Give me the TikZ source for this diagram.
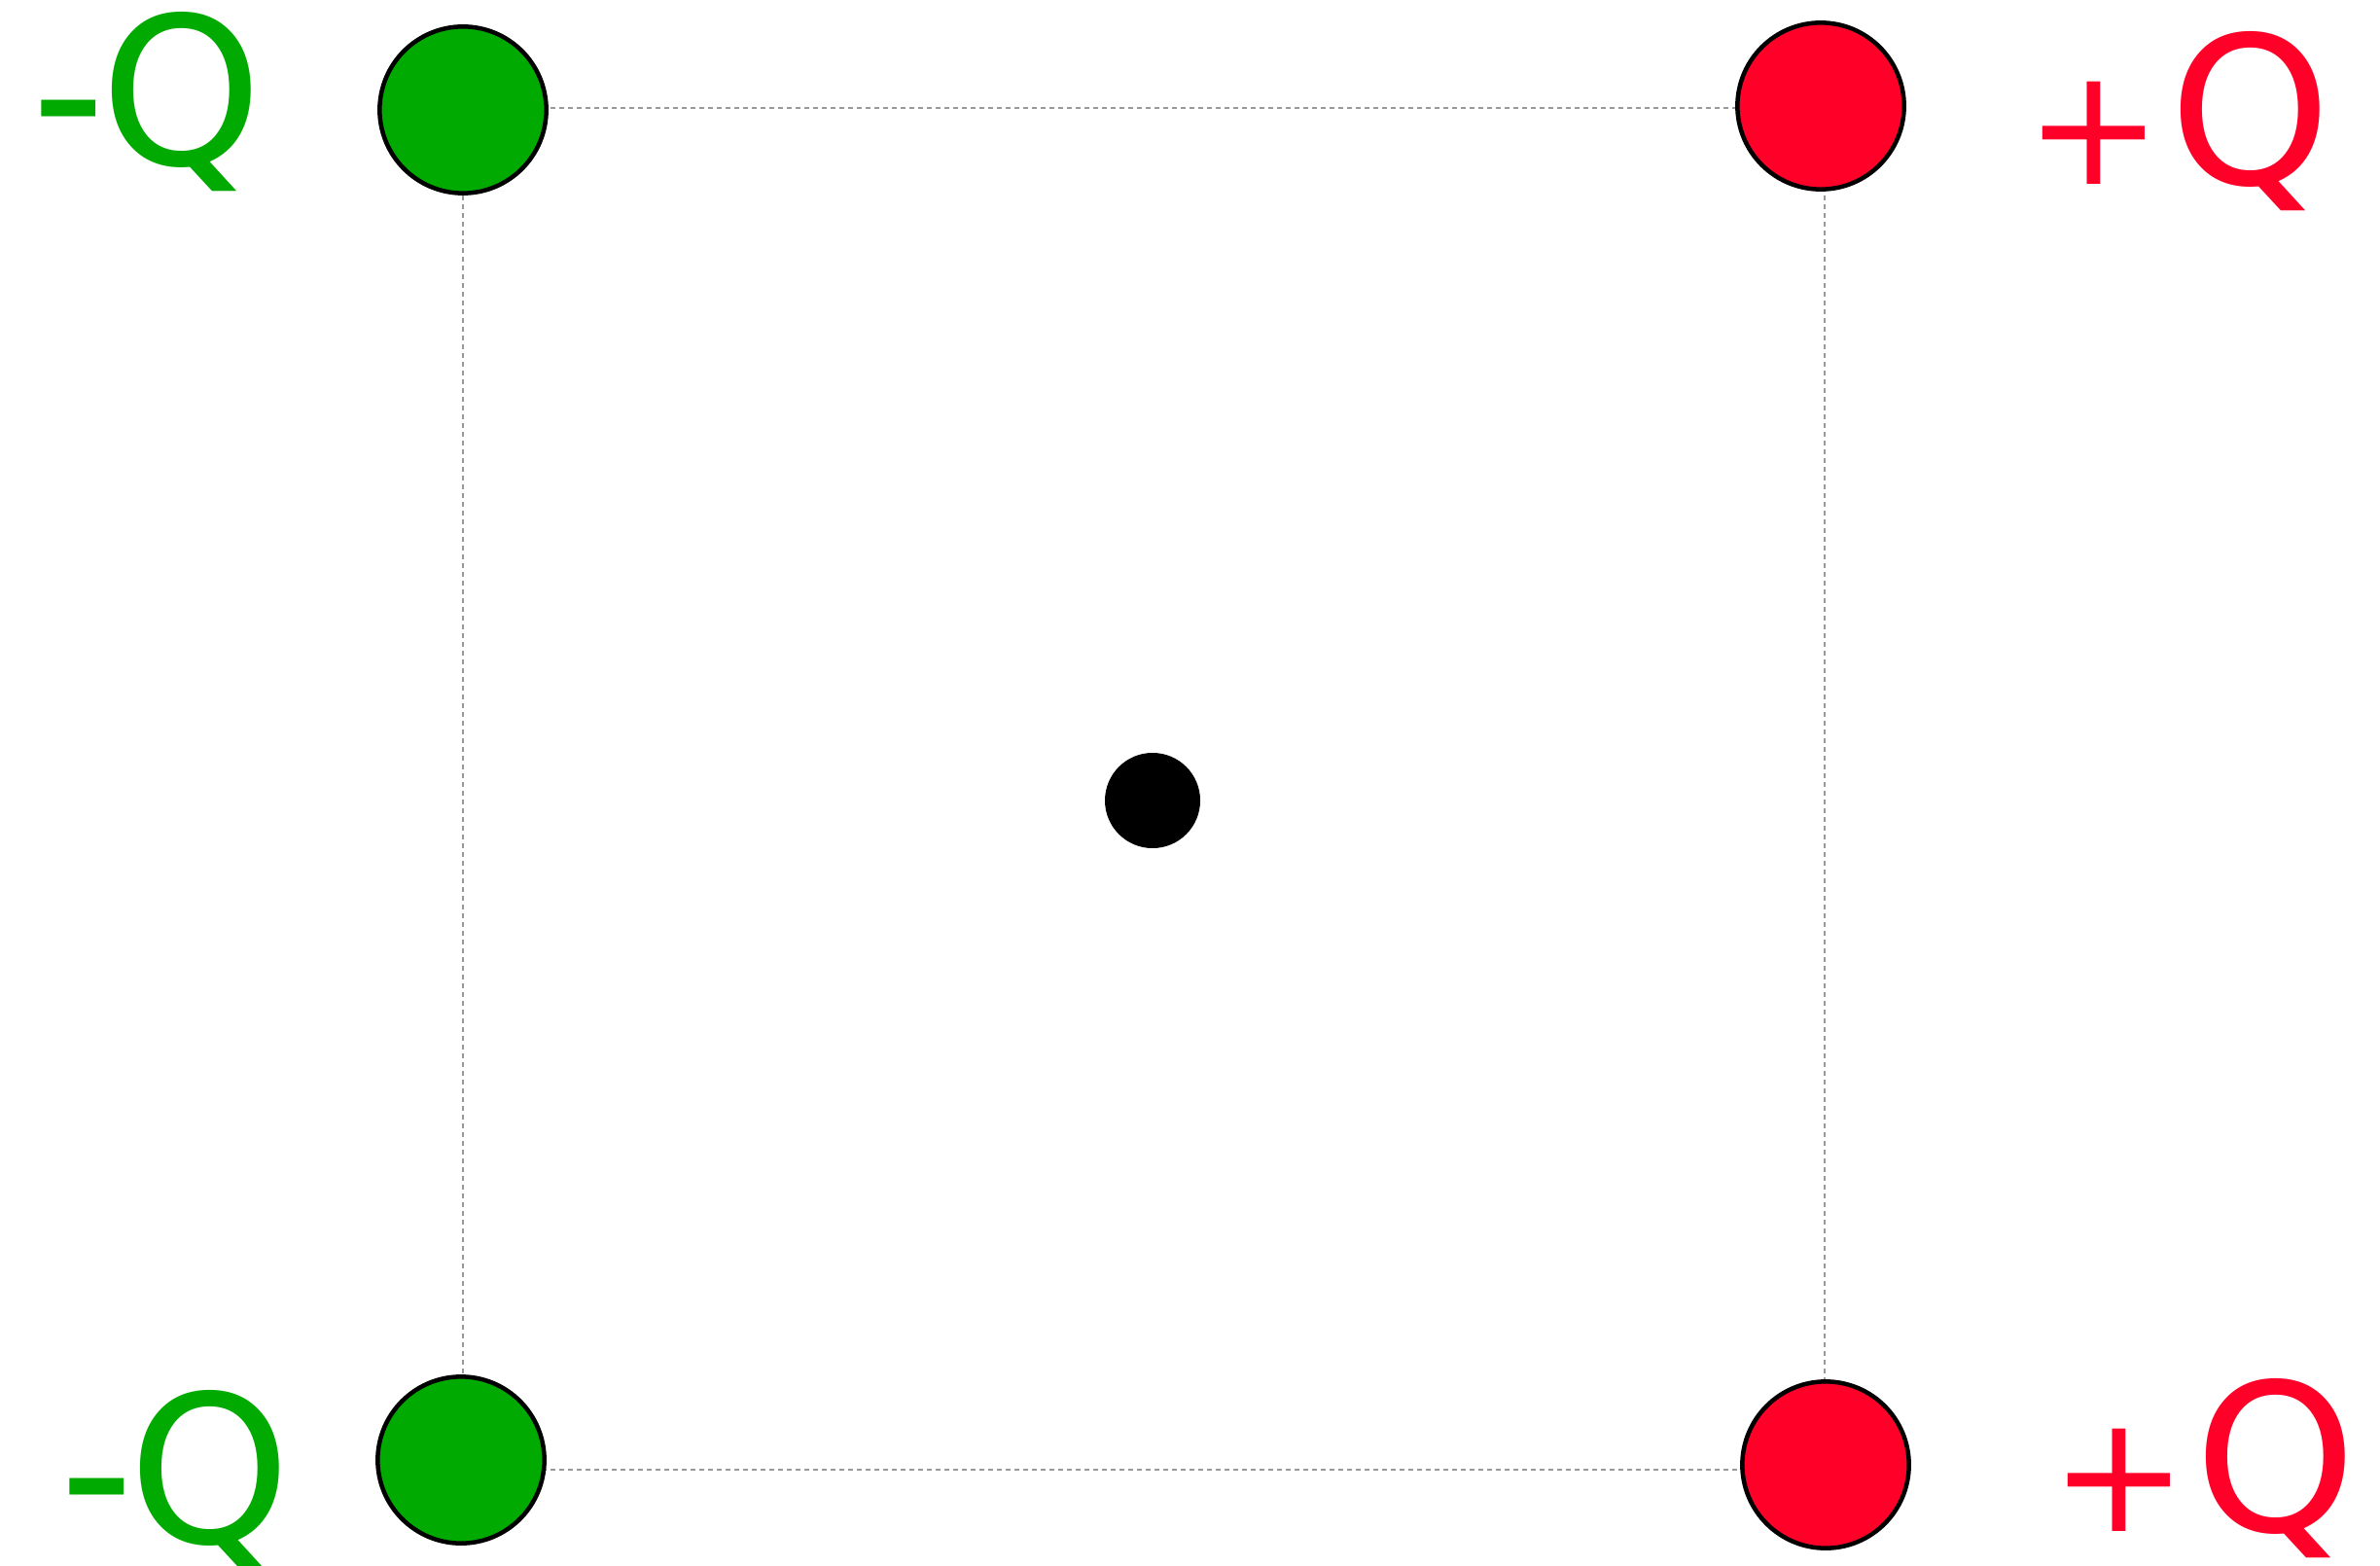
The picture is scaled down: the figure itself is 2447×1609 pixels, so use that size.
\documentclass[tikz,border=0pt]{standalone}
\usepackage{fontspec}
\setmainfont{DejaVu Sans}
\definecolor{qgreen}{RGB}{0,170,0}
\definecolor{qred}{RGB}{255,0,40}
\tikzset{
  charge/.style={circle, draw=black, line width=1.35pt, minimum size=51.4pt, inner sep=0pt},
  negcharge/.style={charge, fill=qgreen},
  poscharge/.style={charge, fill=qred},
  sideline/.style={draw=black!40, line width=0.6pt, dash pattern=on 1.5pt off 1.2pt},
  chargelabel/.style={anchor=base west, inner sep=0pt, text depth=0pt, font=\fontsize{63.5pt}{70pt}\selectfont},
}
\newcommand{\smallplus}{{\fontsize{50.4pt}{55pt}\selectfont +}\kern2.2pt}
\newcommand{\tightminus}{-\kern-1.8pt}
\begin{document}
\begin{tikzpicture}[x=0.3pt,y=-0.3pt]
\useasboundingbox (0,0) rectangle (2447,1609);
\coordinate (ca) at (476,111);
\coordinate (cb) at (1876,111);
\coordinate (cc) at (1876,1511);
\coordinate (cd) at (476,1511);
\draw[sideline] (ca) -- (cb);
\draw[sideline] (cd) -- (cc);
\draw[sideline] (ca) -- (cd);
\draw[sideline] (cb) -- (cc);
\node[negcharge] (tl) at (476,113) {};
\node[poscharge] (tr) at (1872,109) {};
\node[negcharge] (bl) at (474,1501) {};
\node[poscharge] (br) at (1877,1506) {};
\node[circle, fill=black, minimum size=29.4pt, inner sep=0pt] (c) at (1185,823) {};
\node[chargelabel, text=qgreen] (ltl) at (32,170) {\tightminus Q};
\node[chargelabel, text=qgreen] (lbl) at (61,1586) {\tightminus Q};
\node[chargelabel, text=qred] (ltr) at (2082,190) {\smallplus Q};
\node[chargelabel, text=qred] (lbr) at (2108,1574) {\smallplus Q};
\end{tikzpicture}
\end{document}
